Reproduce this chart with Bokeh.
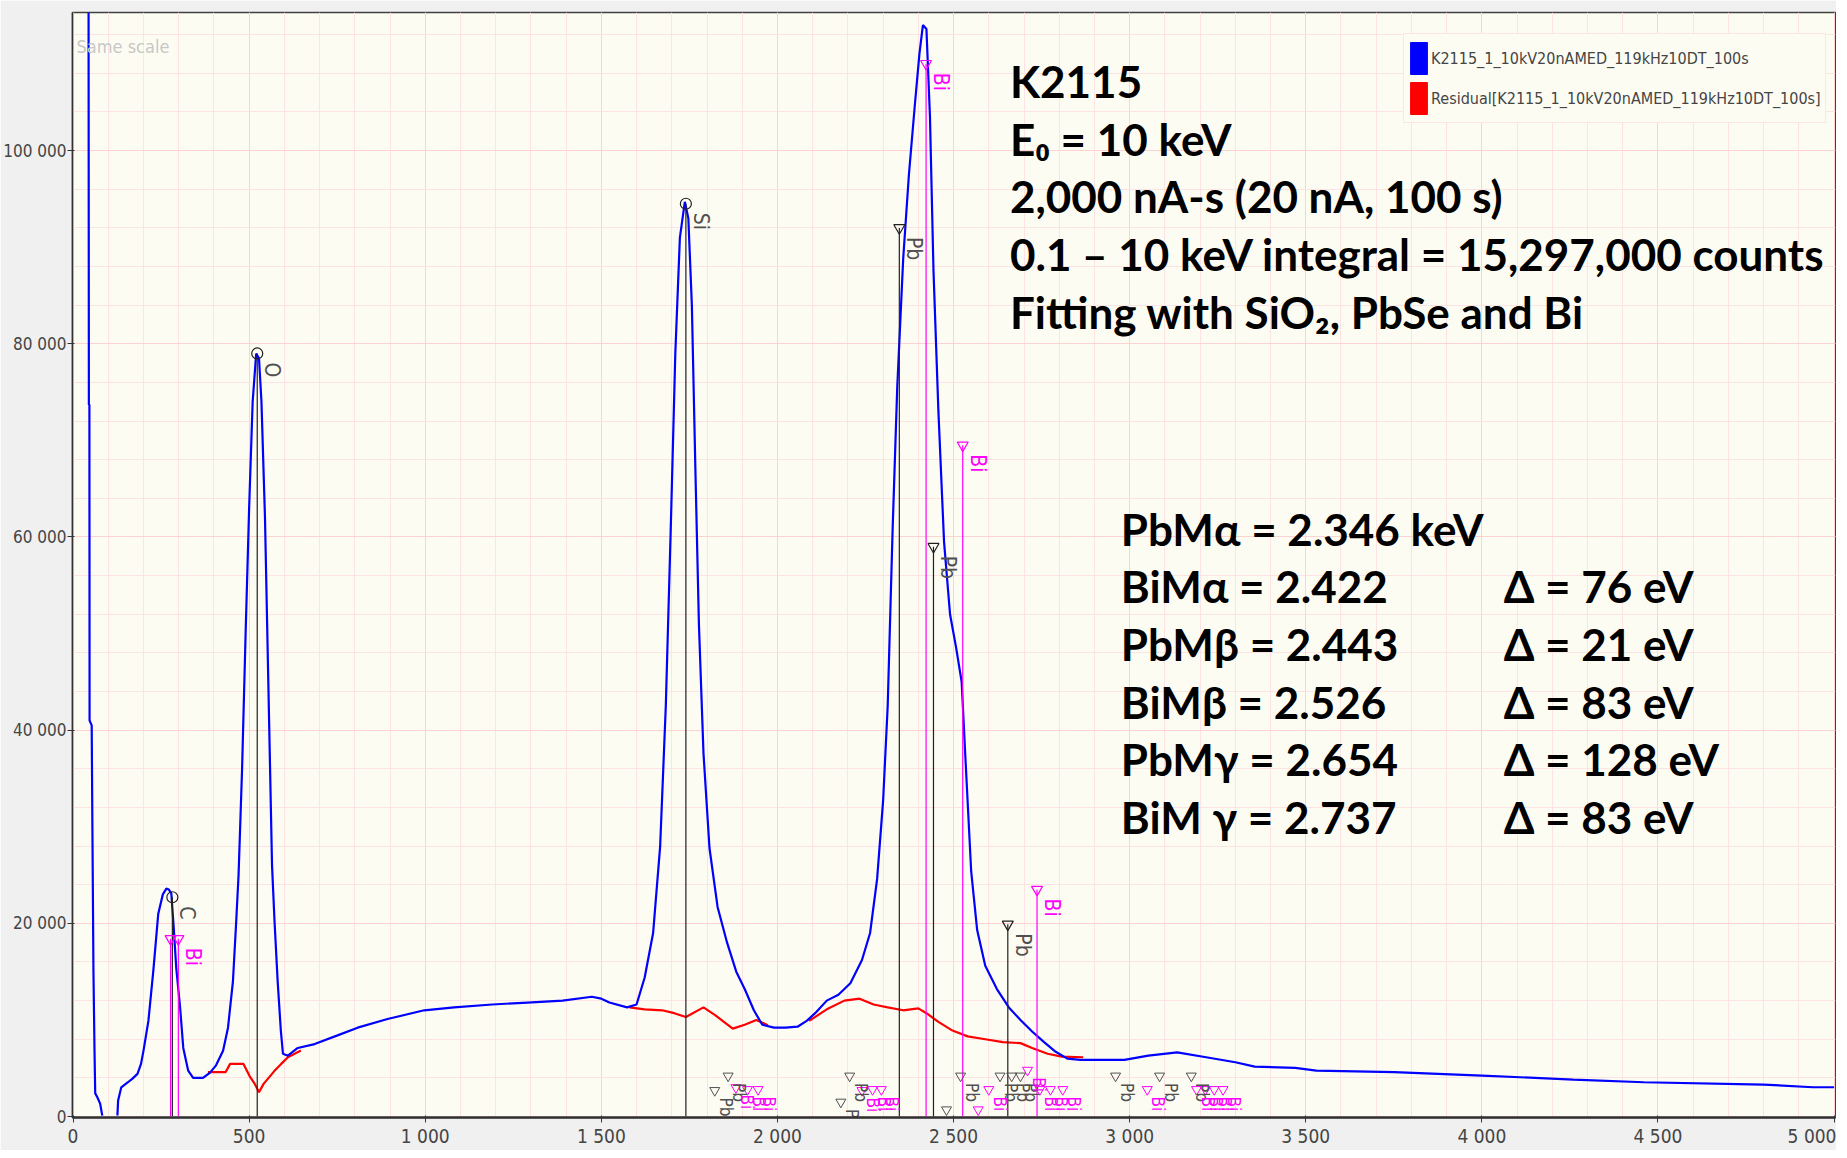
import math
from bokeh.plotting import figure
from bokeh.models import (Range1d, SingleIntervalTicker, CustomJSTickFormatter, Label,
                          Legend, LegendItem, ColumnDataSource)
from bokeh.embed import file_html
from bokeh.resources import INLINE
from bokeh.core.properties import value

NAN = float("nan")

# ---------------- data ----------------
spectrum_ev = [44, 45, 46.5, 47, 53, 55, 58, 61, 63, 69, 77, 83, 100,
               126, 128, 137, 156, 168, 183, 193, 200, 214, 228, 242, 255, 265, 272, 279, 286, 293,
               304, 313, 327, 341, 369, 389, 406, 426, 440, 454, 463, 470, 480, 490, 500, 510,
               520, 528, 535, 545, 555, 565, 572, 581, 590, 596, 610, 638, 686, 751, 808, 893,
               997, 1082, 1190, 1290, 1390, 1473, 1500, 1523, 1573, 1600, 1623, 1647, 1667, 1683,
               1697, 1710, 1723, 1737, 1747, 1757, 1767, 1777, 1790, 1807, 1830, 1857, 1883, 1907,
               1933, 1957, 1990, 2023, 2057, 2083, 2107, 2140, 2173, 2207, 2240, 2263, 2283, 2300,
               2313, 2327, 2340, 2357, 2373, 2390, 2403, 2413, 2423, 2433, 2443, 2457, 2473, 2490,
               2507, 2523, 2533, 2550, 2567, 2590, 2623, 2657, 2690, 2723, 2757, 2790, 2823, 2860,
               2985, 3053, 3135, 3217, 3300, 3355, 3470, 3530, 3751, 4000, 4260, 4460, 4800, 4940, 5000]
spectrum_counts = [120000, 73700, 73700, 41000, 40500, 30000, 15000, 6800, 2400, 2000, 1340, 100, NAN,
                   100, 1650, 3030, 3550, 3900, 4420, 5450, 6800, 9900, 15100, 21000, 23000, 23600, 23500,
                   23100, 19500, 15400, 11300, 7100, 4750, 4000, 4000, 4550, 5300, 6800, 9200, 14000,
                   20000, 25000, 36000, 50000, 63000, 74000, 79000, 78500, 74000, 62000, 44000, 26000,
                   20300, 14000, 8900, 6500, 6300, 7100, 7500, 8400, 9200, 10100, 11000, 11300, 11600,
                   11800, 12000, 12400, 12200, 11800, 11300, 11600, 14400, 19000, 28000, 42500, 60800,
                   79000, 91000, 94700, 93000, 84000, 67000, 51000, 37600, 27800, 21700, 18000, 15000,
                   13200, 11000, 9500, 9200, 9200, 9300, 9900, 10700, 12000, 12600, 13800, 16200, 19000,
                   24600, 32700, 42500, 60800, 75400, 88800, 97400, 104700, 110000, 113000, 112600,
                   103500, 87600, 73000, 59500, 52000, 48600, 45000, 37600, 25400, 19300, 15600, 13200,
                   11300, 10000, 8800, 7700, 6700, 6000, 5860, 5860, 6310, 6650, 6140, 5620, 5170, 5040,
                   4760, 4590, 4240, 3830, 3550, 3310, 3030, 3030]

residual_ev = [383, 433, 446, 484, 503, 516, 528, 541, 553, 572, 591, 610, 647, NAN,
               1580, 1623, 1673, 1707, 1740, 1790, 1823, 1873, 1907, 1940, 1973, NAN,
               2090, 2140, 2190, 2233, 2273, 2313, 2357, 2400, 2423, 2457, 2497, 2540, 2590, 2640,
               2690, 2723, 2767, 2807, 2868]
residual_counts = [4590, 4590, 5450, 5450, 4070, 3380, 2510, 3380, 3900, 4730, 5450, 6140, 6830, NAN,
                   11300, 11100, 11000, 10700, 10300, 11300, 10500, 9100, 9500, 10000, 9450, NAN,
                   9900, 11100, 12000, 12200, 11600, 11300, 11000, 11200, 10700, 9800, 8900, 8300, 8000,
                   7700, 7600, 7100, 6500, 6200, 6140]

# identified lines (tall markers)
peak_ev = [282, 523, 1740, 2346, 2422, 2443, 2526, 2654, 2737, 277, 299]
peak_height = [22700, 79000, 94500, 92000, 109000, 59000, 69500, 19900, 23500, 18400, 18400]
peak_color = ["#202020", "#202020", "#202020", "#202020", "#ff00ff", "#202020", "#ff00ff",
              "#202020", "#ff00ff", "#ff00ff", "#ff00ff"]
peak_symbol = ["circle", "circle", "circle", "inverted_triangle", "inverted_triangle",
               "inverted_triangle", "inverted_triangle", "inverted_triangle", "inverted_triangle",
               "inverted_triangle", "inverted_triangle"]
peak_label = ["C", "O", "Si", "Pb", "Bi", "Pb", "Bi", "Pb", "Bi", "", "Bi"]
peak_label_color = ["#505050", "#505050", "#505050", "#505050", "#ff00ff", "#505050", "#ff00ff",
                    "#505050", "#ff00ff", "#ff00ff", "#ff00ff"]

# small escape / sum markers near the baseline
minor_ev = [1822, 1860, 2180, 2205, 2480, 2520, 2632, 2665, 2690, 2960, 3085, 3175,
            1882, 1915, 1945, 2240, 2270, 2295, 2570, 2600, 2710, 2745, 2775, 2810,
            3050, 3190, 3215, 3240, 3265]
minor_height = [2700, 4200, 1500, 4200, 700, 4200, 4200, 4200, 4200, 4200, 4200, 4200,
                3000, 2800, 2800, 2700, 2800, 2800, 700, 2800, 4800, 2800, 2800, 2800,
                2800, 2800, 2800, 2800, 2800]
minor_color = ["#505050"] * 12 + ["#ff00ff"] * 17
minor_label = ["Pb"] * 12 + ["Bi"] * 17

legend_labels = ["K2115_1_10kV20nAMED_119kHz10DT_100s",
                 "Residual[K2115_1_10kV20nAMED_119kHz10DT_100s]"]

info_lines = ["K2115", "E\u2080 = 10 keV", "2,000 nA-s (20 nA, 100 s)",
              "0.1 \u2013 10 keV integral = 15,297,000 counts", "Fitting with SiO\u2082, PbSe and Bi"]
energy_lines = ["PbM\u03b1 = 2.346 keV", "BiM\u03b1 = 2.422", "PbM\u03b2 = 2.443", "BiM\u03b2 = 2.526",
                "PbM\u03b3 = 2.654", "BiM \u03b3 = 2.737"]
delta_lines = ["", "\u0394 = 76 eV", "\u0394 = 21 eV", "\u0394 = 83 eV", "\u0394 = 128 eV", "\u0394 = 83 eV"]

# ---------------- styling ----------------
NARROW = "'Liberation Sans Narrow', 'Arial Narrow', 'DejaVu Sans Condensed', 'Liberation Sans', sans-serif"
BOLD = "Lato, 'Open Sans', sans-serif"

p = figure(width=1836, height=1150, x_range=Range1d(-1.5, 5004), y_range=Range1d(-100, 114300),
           output_backend="svg", toolbar_location=None,
           min_border_left=66, min_border_right=1, min_border_top=12, min_border_bottom=33)
p.background_fill_color = "#fdfcf3"
p.border_fill_color = "#f0f0f0"
p.outline_line_color = "#404040"
p.outline_line_width = 1.5

fmt = CustomJSTickFormatter(code="return Math.round(tick).toString().replace(/\\B(?=(\\d{3})+(?!\\d))/g, ' ');")
p.xaxis.ticker = SingleIntervalTicker(interval=500, num_minor_ticks=5)
p.yaxis.ticker = SingleIntervalTicker(interval=20000, num_minor_ticks=5)
p.xaxis.formatter = fmt
p.yaxis.formatter = fmt
p.axis.axis_line_color = "#333333"
p.xaxis.axis_line_width = 2.5
p.yaxis.axis_line_width = 1.5
p.axis.major_tick_line_color = "#333333"
p.axis.major_tick_out = 5
p.axis.major_tick_in = 2
p.axis.minor_tick_out = 0
p.axis.minor_tick_in = 0
p.axis.major_label_text_font = NARROW
p.axis.major_label_text_font_size = "17px"
p.xaxis.major_label_text_font_size = "19px"
p.axis.major_label_text_color = "#454545"
p.xaxis.major_label_standoff = 2
p.yaxis.major_label_standoff = 1

p.xgrid.grid_line_color = "#ffd2d2"
p.ygrid.grid_line_color = "#ffd2d2"
p.xgrid.minor_grid_line_color = "#fde3e3"
p.ygrid.minor_grid_line_color = "#fde3e3"

# curves
p.line(residual_ev, residual_counts, line_color="#ff0000", line_width=2.2)
p.line(spectrum_ev, spectrum_counts, line_color="#0000ff", line_width=2.2)

# peak marker lines
peaks = ColumnDataSource(dict(x=peak_ev, y=peak_height, c=peak_color, m=peak_symbol,
                              t=peak_label, tc=peak_label_color, zero=[0] * len(peak_ev)))
p.segment(x0="x", y0="zero", x1="x", y1="y", line_color="c", line_width=1.2, source=peaks)
p.scatter(x="x", y="y", marker="m", size=11, fill_color=None, line_color="c", line_width=1.2, source=peaks)
p.text(x="x", y="y", text="t", angle=-math.pi / 2, text_font=value(NARROW), text_font_size="21px",
       text_color="tc", text_align="left", text_baseline="bottom", x_offset=3, y_offset=9, source=peaks)

minors = ColumnDataSource(dict(x=minor_ev, y=minor_height, c=minor_color, t=minor_label))
p.scatter(x="x", y="y", marker="inverted_triangle", size=10, fill_color=None, line_color="c",
          line_width=1, source=minors)
p.text(x="x", y="y", text="t", angle=-math.pi / 2, text_font=value(NARROW), text_font_size="17px",
       text_color="c", text_align="left", text_baseline="bottom", x_offset=1, y_offset=7, source=minors)

# legend with filled swatches
qb = p.quad(left=[NAN], right=[NAN], top=[NAN], bottom=[NAN], fill_color="#0000ff", line_color="#0000ff")
qr = p.quad(left=[NAN], right=[NAN], top=[NAN], bottom=[NAN], fill_color="#ff0000", line_color="#ff0000")
legend = Legend(items=[LegendItem(label=legend_labels[0], renderers=[qb]),
                       LegendItem(label=legend_labels[1], renderers=[qr])],
                location=(1331, 994))
legend.glyph_width = 21
legend.glyph_height = 40
legend.label_height = 40
legend.label_standoff = 2
legend.spacing = 0
legend.padding = 4
legend.margin = 0
legend.label_text_font = NARROW
legend.label_text_font_size = "16px"
legend.label_text_color = "#454545"
legend.background_fill_color = "#fdfcf3"
legend.background_fill_alpha = 1.0
legend.border_line_color = "#ffd0d0"
legend.border_line_width = 1.5
p.add_layout(legend)

# annotation texts
p.add_layout(Label(x=10, y=110800, text="Same scale", text_font=NARROW, text_font_size="18px",
                   text_color="#c8c8c8", text_baseline="middle"))

info_y = [107254, 101244, 95338, 89328, 83318]
for t, yy in zip(info_lines, info_y):
    p.add_layout(Label(x=2660, y=yy, text=t, text_font=BOLD, text_font_style="bold",
                       text_font_size="44px", text_color="#000000", text_baseline="middle"))

energy_y = [60834, 54927, 48918, 42908, 37002, 30992]
for t, d, yy in zip(energy_lines, delta_lines, energy_y):
    p.add_layout(Label(x=2975, y=yy, text=t, text_font=BOLD, text_font_style="bold",
                       text_font_size="44px", text_color="#000000", text_baseline="middle"))
    if d:
        p.add_layout(Label(x=4062, y=yy, text=d, text_font=BOLD, text_font_style="bold",
                           text_font_size="44px", text_color="#000000", text_baseline="middle"))

open("out.html", "w").write(file_html(p, INLINE))
